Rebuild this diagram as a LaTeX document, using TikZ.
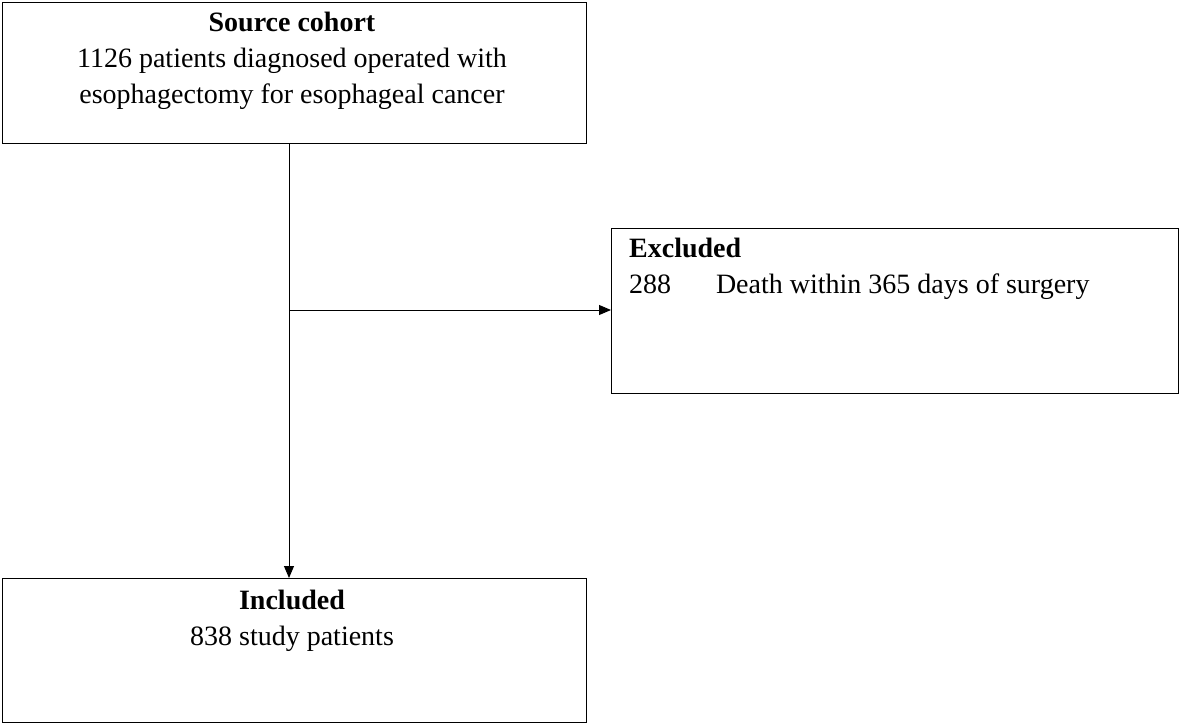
\documentclass[tikz,border=0pt]{standalone}
\usepackage{fontspec}
\setmainfont{Liberation Serif}
\usetikzlibrary{arrows.meta}
\begin{document}
\begin{tikzpicture}[x=1pt,y=-1pt,
  box/.style={draw,line width=0.9pt,anchor=north west,inner sep=0pt},
  txt/.style={font=\fontsize{28}{36}\selectfont,inner sep=0pt,align=center},
  arr/.style={line width=0.9pt,-{Triangle[length=12pt,width=10pt]}}]
\useasboundingbox (0,0) rectangle (1180,725);
\node[box,minimum width=584pt,minimum height=141pt] (src) at (2,2) {};
\node[box,minimum width=567pt,minimum height=165pt] (exc) at (611,228) {};
\node[box,minimum width=584pt,minimum height=144pt] (inc) at (2,578) {};
\node[txt,anchor=north] (srct) at (292,12) {\textbf{Source cohort}\\1126 patients diagnosed operated with\\esophagectomy for esophageal cancer};
\node[txt,anchor=north west,align=left] (exct) at (629,238) {\textbf{Excluded}\\288\hspace{1.6em}Death within 365 days of surgery};
\node[txt,anchor=north] (inct) at (292,590) {\textbf{Included}\\838 study patients};
\coordinate (j) at (289,310);
\draw[arr] (289,143) -- (289,578);
\draw[arr] (j) -- (exc.west |- j);
\end{tikzpicture}
\end{document}
